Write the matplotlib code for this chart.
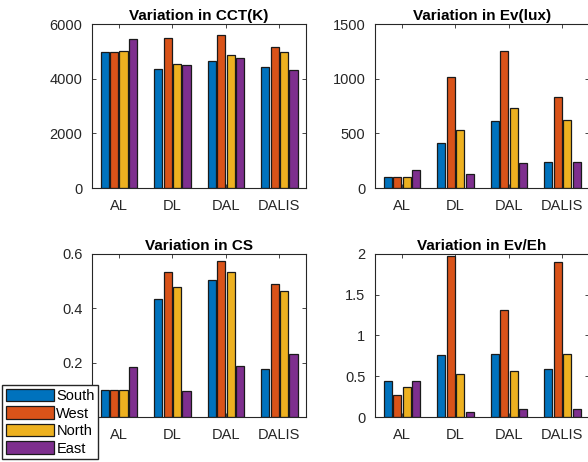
import matplotlib.pyplot as plt
from matplotlib.patches import Patch
import numpy as np

plt.rcParams['font.family'] = ['Liberation Sans', 'DejaVu Sans']

groups = ['AL', 'DL', 'DAL', 'DALIS']
sides = ['South', 'West', 'North', 'East']
colors = ['#0072BD', '#D95319', '#EDB120', '#7E2F8E']

# rows: South, West, North, East ; columns: AL, DL, DAL, DALIS
cct = [[4980, 4350, 4650, 4440],
       [4980, 5475, 5585, 5145],
       [5000, 4550, 4855, 4965],
       [5450, 4510, 4755, 4330]]
ev = [[104, 412, 613, 235],
      [104, 1012, 1250, 829],
      [104, 530, 732, 622],
      [165, 131, 229, 235]]
cs = [[0.10, 0.433, 0.504, 0.175],
      [0.10, 0.533, 0.574, 0.491],
      [0.10, 0.48, 0.534, 0.465],
      [0.184, 0.096, 0.187, 0.233]]
ev_eh = [[0.445, 0.755, 0.776, 0.592],
         [0.265, 1.97, 1.31, 1.90],
         [0.363, 0.527, 0.559, 0.771],
         [0.445, 0.065, 0.094, 0.102]]

panels = [
    ('Variation in CCT(K)', cct, (0, 6000), [0, 2000, 4000, 6000], ['0', '2000', '4000', '6000']),
    ('Variation in Ev(lux)', ev, (0, 1500), [0, 500, 1000, 1500], ['0', '500', '1000', '1500']),
    ('Variation in CS', cs, (0, 0.6), [0.2, 0.4, 0.6], ['0.2', '0.4', '0.6']),
    ('Variation in Ev/Eh', ev_eh, (0, 2), [0, 0.5, 1, 1.5, 2], ['0', '0.5', '1', '1.5', '2']),
]

boxes = [
    [0.1565, 0.593, 0.364, 0.355],
    [0.638, 0.593, 0.364, 0.355],
    [0.1565, 0.0974, 0.364, 0.353],
    [0.638, 0.0974, 0.364, 0.353],
]

fig = plt.figure(figsize=(5.88, 4.62), dpi=100)
x = np.arange(1, len(groups) + 1)
pitch = 0.177
width = 0.15
ink = '#262626'

for (title, data, ylim, yt, ytl), box in zip(panels, boxes):
    ax = fig.add_axes(box)
    for i in range(4):
        ax.bar(x + (i - 1.5) * pitch, data[i], width=width, color=colors[i],
               edgecolor='#1a1a1a', linewidth=0.9, zorder=2)
    ax.set_xlim(0.5, 4.5)
    ax.set_ylim(*ylim)
    ax.set_xticks(x)
    ax.set_xticklabels(groups)
    ax.set_yticks(yt)
    ax.set_yticklabels(ytl)
    ax.tick_params(direction='in', top=True, right=True, length=3, width=0.6,
                   colors=ink, labelsize=10.5)
    ax.tick_params(axis='x', pad=8)
    ax.tick_params(axis='y', pad=7)
    for s in ax.spines.values():
        s.set_color(ink)
        s.set_linewidth(0.8)
    ax.set_title(title, fontsize=11, fontweight='bold', pad=3)

handles = [Patch(facecolor=c, edgecolor='#1a1a1a', linewidth=0.9) for c in colors]
fig.legend(handles, sides, loc='lower left', bbox_to_anchor=(0.004, 0.006),
           fontsize=10.5, handlelength=3.3, handleheight=0.95, labelspacing=0.22,
           handletextpad=0.15, borderpad=0.25, borderaxespad=0.0,
           frameon=True, fancybox=False, edgecolor=ink, framealpha=1)

fig.savefig('out.png', dpi=100)
